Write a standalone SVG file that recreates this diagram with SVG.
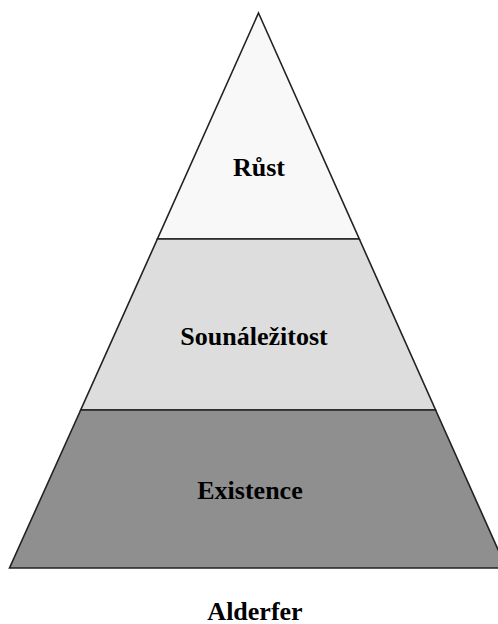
<svg xmlns="http://www.w3.org/2000/svg" width="498" height="624" viewBox="0 0 498 624">
  <style>
    .tier { stroke: #222222; stroke-width: 1.6; stroke-linejoin: miter; }
    .label { font-family: "Liberation Serif", "Times New Roman", serif; font-weight: bold; font-size: 26px; fill: #000000; text-anchor: middle; }
  </style>
  <rect width="498" height="624" fill="#ffffff"/>
  <!-- top tier -->
  <g id="rust">
    <polygon class="tier" fill="#f8f8f8" points="258.5,13 359.3,239 157.4,239"/>
    <text class="label" x="259" y="176">Růst</text>
  </g>
  <!-- middle tier -->
  <g id="sounalezitost">
    <polygon class="tier" fill="#dddddd" points="157.4,239 359.3,239 435.6,410 80.7,410"/>
    <text class="label" x="254" y="345">Sounáležitost</text>
  </g>
  <!-- bottom tier -->
  <g id="existence">
    <polygon class="tier" fill="#8f8f8f" points="80.7,410 435.6,410 506.3,568 9.5,568"/>
    <text class="label" x="250" y="499">Existence</text>
  </g>
  <g id="connectors"></g>
  <g id="caption">
    <text class="label" x="255" y="620">Alderfer</text>
  </g>
</svg>
